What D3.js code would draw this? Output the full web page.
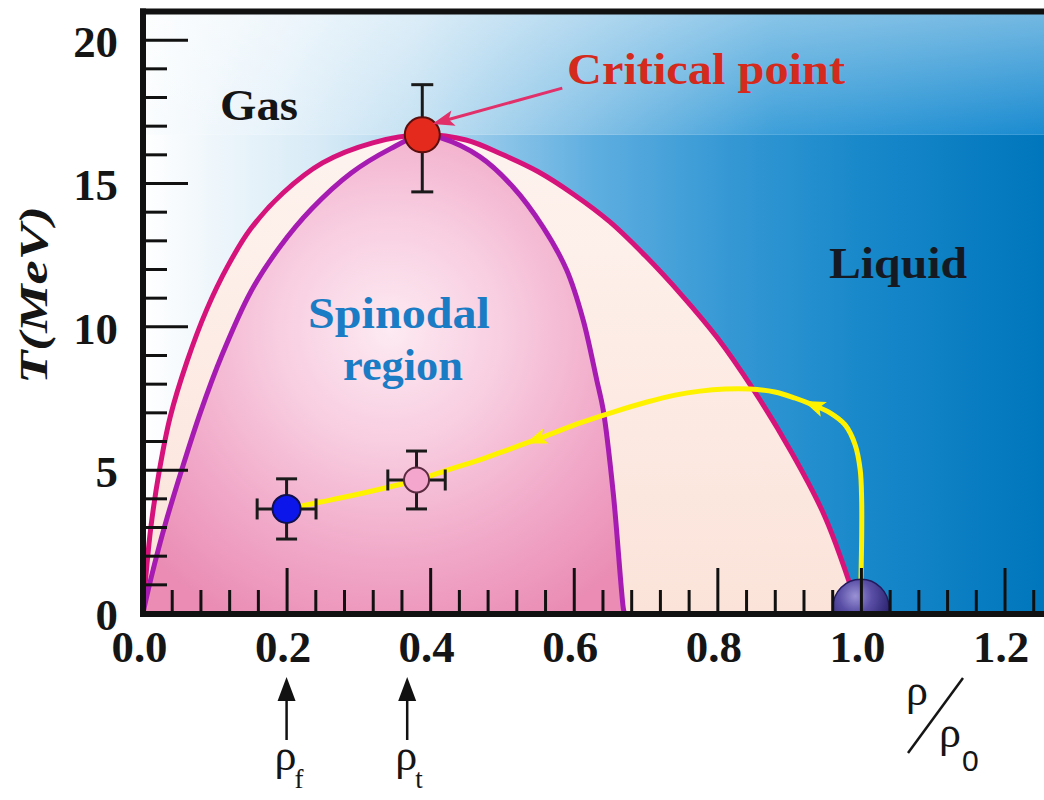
<!DOCTYPE html>
<html><head><meta charset="utf-8">
<script src="https://cdn.jsdelivr.net/npm/d3@7"></script>
<style>
html,body{margin:0;padding:0;background:#fff;}
svg{display:block;}
</style></head><body>
<svg id="chart" width="1044" height="800"></svg>
<script>
// ---------------- data ----------------
const xTicksMajor = [0.0, 0.2, 0.4, 0.6, 0.8, 1.0, 1.2];
const xTicksMinor = [0.04,0.08,0.12,0.16,0.24,0.28,0.32,0.36,0.44,0.48,0.52,0.56,0.64,0.68,0.72,0.76,0.84,0.88,0.92,0.96,1.04,1.08,1.12,1.16,1.24];
const yTicksMajor = [0, 5, 10, 15, 20];
const yTicksMinor = [1,2,3,4,6,7,8,9,11,12,13,14,16,17,18,19];

// coexistence (outer) curve: [rho/rho0, T(MeV)]
const coexistence = [[0,0],[0.003,1.0],[0.011,3.0],[0.023,5.0],[0.038,6.85],[0.061,8.75],[0.089,10.6],[0.118,12.1],[0.15,13.4],[0.195,14.65],[0.25,15.7],[0.32,16.4],[0.389,16.68],[0.45,16.5],[0.50,16.0],[0.55,15.4],[0.60,14.6],[0.65,13.65],[0.70,12.45],[0.75,11.1],[0.80,9.6],[0.85,7.8],[0.90,5.75],[0.95,3.35],[0.998,0]];
// spinodal (inner) curve
const spinodal = [[0,0],[0.012,1.3],[0.031,3.1],[0.054,5.0],[0.08,7.0],[0.11,9.0],[0.15,11.2],[0.19,12.75],[0.235,14.1],[0.29,15.35],[0.345,16.2],[0.389,16.68],[0.414,16.58],[0.469,15.92],[0.515,14.87],[0.557,13.47],[0.590,11.97],[0.613,10.23],[0.632,8.13],[0.641,7.09],[0.655,4.19],[0.669,0.17],[0.6705,0]];
// reaction trajectory (yellow), from the ground state to freeze-out
const trajectory = [[1.0,0.3],[1.0,1.15],[1.001,2.55],[1.001,3.94],[0.999,4.99],[0.992,5.86],[0.978,6.56],[0.957,6.98],[0.933,7.26],[0.908,7.50],[0.880,7.71],[0.845,7.81],[0.811,7.81],[0.776,7.74],[0.741,7.60],[0.702,7.36],[0.655,7.01],[0.609,6.63],[0.553,6.10],[0.511,5.72],[0.469,5.34],[0.428,5.02],[0.382,4.64],[0.337,4.36],[0.288,4.08],[0.247,3.87],[0.2,3.63]];
const trajectoryArrows = [[0.935,7.24],[0.548,6.06]];

const criticalPoint = {rho:0.389, T:16.68, Tlo:14.69, Thi:18.43};
const measured = [
  {id:"f", rho:0.2,   T:3.63, dRho:0.041, dT:1.05},
  {id:"t", rho:0.381, T:4.64, dRho:0.040, dT:1.01}
];
const groundState = {rho:1.0, T:0.2};
const densityMarks = [{rho:0.2, sub:"f"}, {rho:0.368, sub:"t"}];
const criticalArrow = {from:[0.584,18.31], to:[0.403,17.06]};

// ---------------- styles ----------------
const pointColors = {f:"#0c16ea", t:"#f5a6cc"};
const serif = "'Liberation Serif',Tinos,'Times New Roman',Times,'Nimbus Roman','Nimbus Roman No9 L',FreeSerif,'DejaVu Serif Condensed','DejaVu Serif',serif";

// ---------------- scales ----------------
const svg = d3.select("#chart");
const x = d3.scaleLinear().domain([0, 1.255]).range([143, 1044]);
const y = d3.scaleLinear().domain([0, 21]).range([613, 11]);
const X0 = x(0), Y0 = y(0), XR = 1044, YT = 11;

const defs = svg.append("defs");
defs.append("clipPath").attr("id","plotClip").append("rect")
  .attr("x",X0).attr("y",YT).attr("width",XR-X0).attr("height",Y0-YT);

function linGrad(id, x1, y1, x2, y2, stops){
  const g = defs.append("linearGradient").attr("id",id).attr("gradientUnits","userSpaceOnUse")
    .attr("x1",x1).attr("y1",y1).attr("x2",x2).attr("y2",y2);
  stops.forEach(s=>g.append("stop").attr("offset",s[0]).attr("stop-color",s[1]).attr("stop-opacity", s[2]===undefined?1:s[2]));
}
const yc = y(criticalPoint.T);
linGrad("bgLow", X0, 0, XR, 0, [[0,"#ffffff"],[0.08,"#eef6fb"],[0.2,"#d6eaf6"],[0.35,"#a2cfec"],[0.5,"#5eaee0"],[0.65,"#3598d4"],[0.8,"#1888ca"],[1,"#0076bc"]]);
linGrad("bgTop", X0, 0, XR, 0, [[0,"#fbfdfe"],[0.15,"#e6f2fa"],[0.3,"#c6e2f3"],[0.5,"#82c0e6"],[0.7,"#3d9fd9"],[1,"#1a8bd0"]]);
linGrad("bgTopV", 0, YT, 0, yc, [[0,"#ffffff",0.4],[1,"#ffffff",0]]);
linGrad("cream", 0, y(16.7), 0, Y0, [[0,"#fef3ef"],[1,"#fbe3d9"]]);
const pg = defs.append("radialGradient").attr("id","pink").attr("gradientUnits","userSpaceOnUse")
  .attr("cx",390).attr("cy",330).attr("r",330);
[[0,"#fdeaf2"],[0.35,"#f8cde0"],[0.7,"#f1a8c8"],[1,"#ea8cb4"]].forEach(s=>pg.append("stop").attr("offset",s[0]).attr("stop-color",s[1]));
const bg = defs.append("radialGradient").attr("id","ball").attr("cx","40%").attr("cy","30%").attr("r","65%");
[[0,"#9a92d6"],[0.45,"#5a4fa6"],[1,"#2c2370"]].forEach(s=>bg.append("stop").attr("offset",s[0]).attr("stop-color",s[1]));

const plot = svg.append("g").attr("clip-path","url(#plotClip)");

// background
plot.append("rect").attr("x",X0).attr("y",yc).attr("width",XR-X0).attr("height",Y0-yc).attr("fill","url(#bgLow)");
plot.append("rect").attr("x",X0).attr("y",YT).attr("width",XR-X0).attr("height",yc-YT).attr("fill","url(#bgTop)");
plot.append("rect").attr("x",X0).attr("y",YT).attr("width",XR-X0).attr("height",yc-YT).attr("fill","url(#bgTopV)");

// regions
const curve = d3.curveCatmullRom.alpha(0.5);
const area = d3.area().x(d=>x(d[0])).y0(Y0).y1(d=>y(d[1])).curve(curve);
const line = d3.line().x(d=>x(d[0])).y(d=>y(d[1])).curve(curve);
plot.append("path").datum(coexistence).attr("d",area).attr("fill","url(#cream)");
plot.append("path").datum(spinodal).attr("d",area).attr("fill","url(#pink)");
plot.append("path").datum(coexistence).attr("d",line).attr("fill","none").attr("stroke","#d6137a").attr("stroke-width",5);
plot.append("path").datum(spinodal).attr("d",line).attr("fill","none").attr("stroke","#a61cb2").attr("stroke-width",5);

// trajectory
const trajLine = d3.line().x(d=>x(d[0])).y(d=>y(d[1])).curve(d3.curveCatmullRom.alpha(0.5));
const tp = plot.append("path").datum(trajectory).attr("d",trajLine).attr("fill","none")
  .attr("stroke","#fff200").attr("stroke-width",5).attr("stroke-linecap","round");
const node = tp.node(), L = node.getTotalLength();
trajectoryArrows.forEach(a=>{
  const px = x(a[0]), py = y(a[1]);
  let best = 0, bd = Infinity;
  for(let l=0;l<=L;l+=1){const p=node.getPointAtLength(l);const d=(p.x-px)**2+(p.y-py)**2;if(d<bd){bd=d;best=l;}}
  const p = node.getPointAtLength(best);
  const p0 = node.getPointAtLength(Math.max(0,best-4)), p1 = node.getPointAtLength(Math.min(L,best+4));
  const ang = Math.atan2(p1.y-p0.y, p1.x-p0.x)*180/Math.PI;
  plot.append("path").attr("d","M12,0 L-10,-8 L-5,0 L-10,8 Z")
    .attr("transform",`translate(${p.x},${p.y}) rotate(${ang})`).attr("fill","#fff200");
});

// ground-state nucleus
plot.append("circle").attr("cx",x(groundState.rho)).attr("cy",y(groundState.T)).attr("r",28)
  .attr("fill","url(#ball)").attr("stroke","#231a5e").attr("stroke-width",1.5);

// error bars + points
const eb = svg.append("g").attr("stroke","#1a1a1a").attr("stroke-width",3);
function vbar(cx, t1, t2, cap){
  eb.append("line").attr("x1",cx).attr("x2",cx).attr("y1",y(t1)).attr("y2",y(t2));
  eb.append("line").attr("x1",cx-cap).attr("x2",cx+cap).attr("y1",y(t1)).attr("y2",y(t1));
  eb.append("line").attr("x1",cx-cap).attr("x2",cx+cap).attr("y1",y(t2)).attr("y2",y(t2));
}
function hbar(cy, r1, r2, cap){
  eb.append("line").attr("x1",x(r1)).attr("x2",x(r2)).attr("y1",cy).attr("y2",cy);
  eb.append("line").attr("x1",x(r1)).attr("x2",x(r1)).attr("y1",cy-cap).attr("y2",cy+cap);
  eb.append("line").attr("x1",x(r2)).attr("x2",x(r2)).attr("y1",cy-cap).attr("y2",cy+cap);
}
vbar(x(criticalPoint.rho), criticalPoint.Tlo, criticalPoint.Thi, 11);
measured.forEach(m=>{
  vbar(x(m.rho), m.T-m.dT, m.T+m.dT, 10.5);
  hbar(y(m.T), m.rho-m.dRho, m.rho+m.dRho, 10.5);
});
svg.append("circle").attr("cx",x(criticalPoint.rho)).attr("cy",y(criticalPoint.T)).attr("r",17.5)
  .attr("fill","#e32a1c").attr("stroke","#5a0e0e").attr("stroke-width",2);
measured.forEach(m=>{
  svg.append("circle").attr("cx",x(m.rho)).attr("cy",y(m.T)).attr("r", m.id==="f"?14:12.5)
    .attr("fill",pointColors[m.id]).attr("stroke", m.id==="f"?"#10104a":"#5a2a40").attr("stroke-width",2);
});

// ticks
const tickStyle = g=>{g.select(".domain").remove(); g.selectAll("line").attr("stroke","#111").attr("stroke-width",3);};
svg.append("g").attr("transform",`translate(${X0},0)`).call(d3.axisRight(y).tickValues(yTicksMinor).tickSize(24).tickFormat("")).call(tickStyle);
svg.append("g").attr("transform",`translate(${X0},0)`).call(d3.axisRight(y).tickValues(yTicksMajor).tickSize(45).tickFormat("")).call(tickStyle);
svg.append("g").attr("transform",`translate(0,${Y0})`).call(d3.axisTop(x).tickValues(xTicksMinor).tickSize(23).tickFormat("")).call(tickStyle);
svg.append("g").attr("transform",`translate(0,${Y0})`).call(d3.axisTop(x).tickValues(xTicksMajor.slice(1)).tickSize(45).tickFormat("")).call(tickStyle);

// axis lines & frame
svg.append("line").attr("x1",140).attr("x2",XR).attr("y1",Y0+1).attr("y2",Y0+1).attr("stroke","#111").attr("stroke-width",6);
svg.append("line").attr("x1",X0).attr("x2",X0).attr("y1",8.5).attr("y2",Y0+4).attr("stroke","#111").attr("stroke-width",6);
svg.append("line").attr("x1",140).attr("x2",XR).attr("y1",11.5).attr("y2",11.5).attr("stroke","#111").attr("stroke-width",6);

// tick labels (widths matched to a Times-like bold face)
const timesWidth = s => [...s].reduce((w,c)=>w+(c==="."?0.25:0.5),0);
const labStyle = g=>{g.select(".domain").remove(); g.selectAll("text").attr("font-family",serif).attr("font-weight","bold").attr("font-size",44).attr("fill","#151515")
  .attr("textLength",function(){return timesWidth(this.textContent)*44*1.02;}).attr("lengthAdjust","spacingAndGlyphs");};
svg.append("g").attr("transform",`translate(-4,${Y0})`).call(d3.axisBottom(x).tickValues(xTicksMajor).tickSize(0).tickPadding(18).tickFormat(d3.format(".1f"))).call(labStyle);
svg.append("g").attr("transform",`translate(${X0},0)`).call(d3.axisLeft(y).tickValues(yTicksMajor).tickSize(0).tickPadding(25).tickFormat(d3.format("d"))).call(labStyle)
  .selectAll("text").attr("dy","0.38em");

// axis titles
svg.append("text").attr("transform","translate(47,295) rotate(-90)").attr("text-anchor","middle")
  .attr("font-family",serif).attr("font-weight","bold").attr("font-style","italic").attr("font-size",40)
  .attr("textLength",178).attr("lengthAdjust","spacingAndGlyphs").attr("fill","#151515").text("T(MeV)");

// region labels
function label(txt, cx, by, size, len, color){
  svg.append("text").attr("x",cx).attr("y",by).attr("text-anchor","middle").attr("font-family",serif)
    .attr("font-weight","bold").attr("font-size",size).attr("textLength",len).attr("lengthAdjust","spacingAndGlyphs")
    .attr("fill",color).text(txt);
}
label("Gas", 259, 120, 44, 78, "#151515");
label("Critical point", 706, 84, 44, 278, "#d42a1e");
label("Liquid", 898, 278, 44, 138, "#151a22");
label("Spinodal", 399, 328, 44, 182, "#1a7cc4");
label("region", 403, 380, 44, 120, "#1a7cc4");

// critical point pointer
(function(){
  const x1=x(criticalArrow.from[0]), y1=y(criticalArrow.from[1]), x2=x(criticalArrow.to[0]), y2=y(criticalArrow.to[1]);
  const ang = Math.atan2(y2-y1,x2-x1), len = Math.hypot(x2-x1,y2-y1);
  const g = svg.append("g").attr("transform",`translate(${x1},${y1}) rotate(${ang*180/Math.PI})`);
  g.append("line").attr("x1",0).attr("y1",0).attr("x2",len-14).attr("y2",0).attr("stroke","#e2306a").attr("stroke-width",3);
  g.append("path").attr("d",`M${len},0 L${len-22},-8 L${len-17},0 L${len-22},8 Z`).attr("fill","#e2306a");
})();

// density markers below axis
densityMarks.forEach(m=>{
  const cx = x(m.rho);
  svg.append("line").attr("x1",cx).attr("x2",cx).attr("y1",740).attr("y2",696).attr("stroke","#111").attr("stroke-width",2.5);
  svg.append("path").attr("d",`M${cx},677 L${cx-9},701 L${cx+9},701 Z`).attr("fill","#111");
  const t = svg.append("text").attr("x",cx-12).attr("y",770).attr("font-family",serif).attr("font-size",44).attr("fill","#151515");
  t.append("tspan").text("ρ");
  t.append("tspan").attr("font-size",27).attr("dy",18).attr("dx",-2).text(m.sub);
});

// rho / rho0 (one text block)
svg.append("line").attr("x1",908).attr("y1",753).attr("x2",963).attr("y2",678).attr("stroke","#151515").attr("stroke-width",2.5);
const rr = svg.append("text").attr("font-family",serif).attr("font-size",44).attr("fill","#151515");
rr.append("tspan").attr("x",906).attr("y",705).text("ρ");
rr.append("tspan").attr("x",939).attr("y",747).text("ρ");
rr.append("tspan").attr("font-size",30).attr("dy",24).attr("dx",1).attr("font-family","'Liberation Sans','DejaVu Sans',sans-serif").text("0");
</script>
</body></html>
